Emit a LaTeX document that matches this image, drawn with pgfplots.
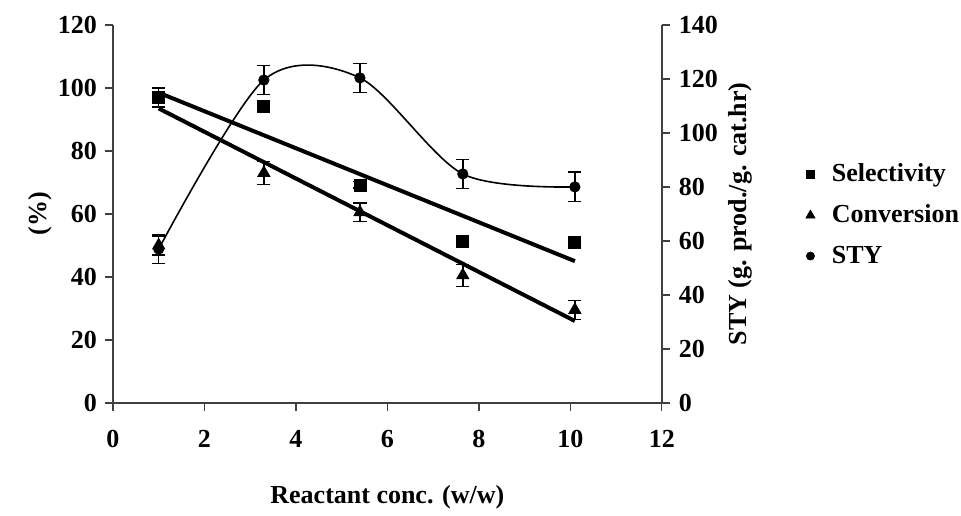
\documentclass[border=0pt]{standalone}
\usepackage{pgfplots}
\pgfplotsset{compat=1.18}
\usepackage{fontspec}
\setmainfont{Liberation Serif}
\begin{document}
\begin{tikzpicture}[font=\fontsize{13}{15}\selectfont\bfseries]
\pgfplotsset{
  base/.style={scale only axis, width=274.5pt, height=189pt, xmin=0, xmax=12,
    /pgf/number format/assume math mode=true,
    major tick length=4pt,
    tick style={black!75, line width=0.7pt},
    axis line style={-, black!75, line width=0.8pt},
    ticklabel style={font=\fontsize{13}{15}\selectfont\bfseries},
    label style={font=\fontsize{13}{15}\selectfont\bfseries},
    clip=false},
  eb/.style={error bars/.cd, y dir=both, y explicit,
    error bar style={line width=0.7pt, black},
    error mark options={rotate=90, line width=0.7pt, mark size=3.3pt, black}, /pgfplots/.cd}
}
\begin{axis}[base, axis x line*=bottom, axis y line*=left, tick align=outside,
  ymin=0, ymax=120, ytick={0,20,...,120}, xtick={0,2,...,12},
  xticklabel style={yshift=-6pt},
  yticklabel style={xshift=-0.5pt},
  xlabel={Reactant conc. (w/w)}, ylabel={(\%)},
  every axis x label/.style={at={(axis description cs:0.5,-0.249)}, anchor=center},
  every axis y label/.style={at={(axis description cs:-0.133,0.5)}, anchor=center, rotate=90}]
% trend lines
\addplot[black, line width=2pt] coordinates {(1,98.5) (10.1,45)};
\addplot[black, line width=2pt] coordinates {(1,93.5) (10.1,26)};
% Selectivity
\addplot[black, only marks, mark=square*, mark size=3pt, eb] coordinates {
 (1,97) +- (0,3)
 (3.3,94) +- (0,1)
 (5.4,69.2) +- (0,1)
 (7.65,51.4) +- (0,1)
 (10.1,50.8) +- (0,1)
};
% Conversion
\addplot[black, only marks, mark=triangle*, mark size=3.5pt, eb] coordinates {
 (1,50) +- (0,3)
 (3.3,73) +- (0,3.6)
 (5.4,60.5) +- (0,3)
 (7.65,40.5) +- (0,3.5)
 (10.1,29.5) +- (0,3)
};
\end{axis}
\begin{axis}[base, axis x line=none, axis y line*=right, tick align=outside,
  ymin=0, ymax=140, ytick={0,20,...,140},
  yticklabel style={xshift=1pt},
  ylabel={STY (g. prod./g. cat.hr)},
  every axis y label/.style={at={(axis description cs:1.144,0.5)}, anchor=center, rotate=90},
  legend style={at={(axis description cs:1.262,0.644)}, anchor=north west, draw=none, fill=none,
    inner sep=0pt, nodes={inner xsep=1pt},
    row sep=6pt, font=\fontsize{13}{15}\selectfont\bfseries,
    /tikz/every odd column/.append style={column sep=7.5pt}},
  legend cell align=left]
\addlegendimage{black, only marks, mark=square*, mark size=2.2pt}
\addlegendimage{black, only marks, mark=triangle*, mark size=2.6pt}
\addlegendimage{black, only marks, mark=*, mark size=2pt}
\legend{Selectivity, Conversion, STY}
\addplot[black, line width=0.8pt, smooth, forget plot] coordinates {
 (1,57) (3.3,119.6) (5.4,120.4) (7.65,84.8) (10.1,80)
};
\addplot[black, only marks, mark=*, mark size=2.6pt, forget plot, eb] coordinates {
 (1,57) +- (0,5.4)
 (3.3,119.6) +- (0,5.4)
 (5.4,120.4) +- (0,5.4)
 (7.65,84.8) +- (0,5.4)
 (10.1,80) +- (0,5.5)
};
\end{axis}
\path (-56.5pt,-55.5pt) rectangle (424pt,201.5pt);
\end{tikzpicture}
\end{document}
